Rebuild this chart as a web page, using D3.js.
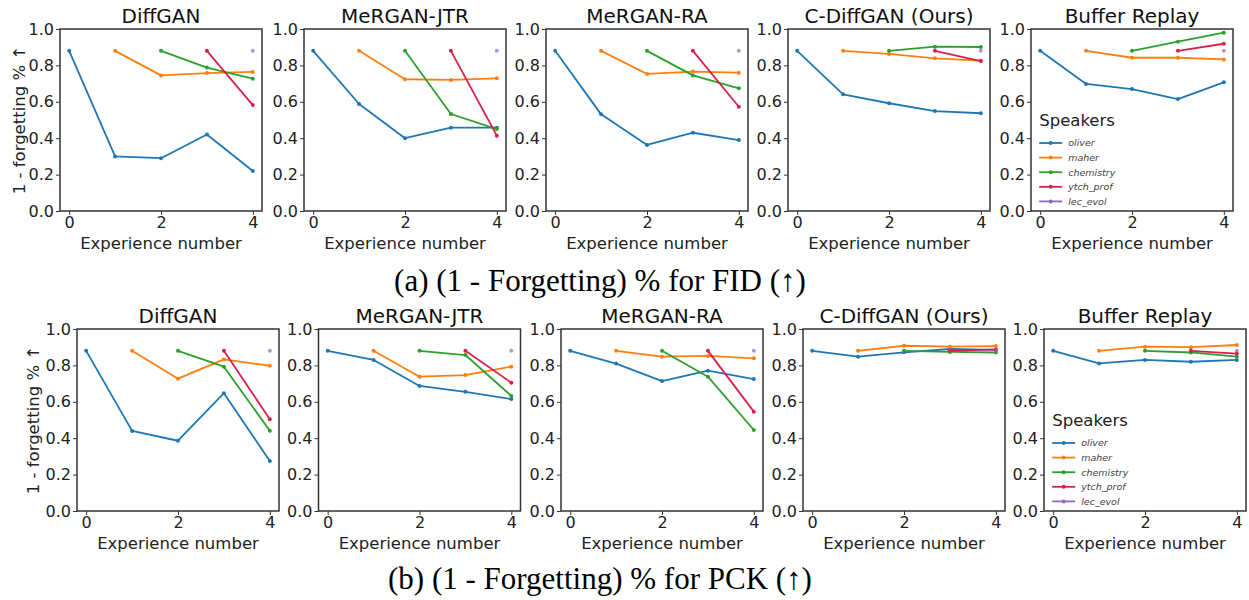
<!DOCTYPE html>
<html><head><meta charset="utf-8">
<script src="https://cdn.jsdelivr.net/npm/d3@7"></script>
<style>body{margin:0;background:#fff}svg{display:block}</style>
</head><body>
<svg id="c" width="1249" height="600"></svg>
<script>
// ---- data ----
const speakers = ["oliver", "maher", "chemistry", "ytch_prof", "lec_evol"];
const speakerColors = ["#1f77b4", "#ff7f0e", "#2ca02c", "#d8214a", "#9467bd"];
const methods = ["DiffGAN", "MeRGAN-JTR", "MeRGAN-RA", "C-DiffGAN (Ours)", "Buffer Replay"];
const experiences = [0, 1, 2, 3, 4];
const xTickValues = [0, 2, 4];
const yTickValues = [0, 0.2, 0.4, 0.6, 0.8, 1.0];
const captions = ["(a) (1 - Forgetting) % for FID (\u2191)", "(b) (1 - Forgetting) % for PCK (\u2191)"];
const yLabel = "1 - forgetting % \u2191";
const xLabel = "Experience number";
const legendTitle = "Speakers";

// rows: speakers; columns: experience 0..4 (null = not yet introduced)
const fidDiffGAN = [
  [0.88, 0.30, 0.29, 0.42, 0.22],
  [null, 0.88, 0.745, 0.758, 0.764],
  [null, null, 0.88, 0.788, 0.727],
  [null, null, null, 0.88, 0.582],
  [null, null, null, null, 0.88]
];
const fidMeRGANJTR = [
  [0.88, 0.588, 0.40, 0.458, 0.458],
  [null, 0.88, 0.724, 0.72, 0.729],
  [null, null, 0.88, 0.533, 0.45],
  [null, null, null, 0.88, 0.414],
  [null, null, null, null, 0.88]
];
const fidMeRGANRA = [
  [0.88, 0.531, 0.363, 0.43, 0.39],
  [null, 0.88, 0.753, 0.766, 0.76],
  [null, null, 0.88, 0.745, 0.674],
  [null, null, null, 0.88, 0.573],
  [null, null, null, null, 0.88]
];
const fidCDiffGAN = [
  [0.88, 0.641, 0.592, 0.549, 0.537],
  [null, 0.88, 0.863, 0.839, 0.826],
  [null, null, 0.88, 0.903, 0.901],
  [null, null, null, 0.88, 0.824],
  [null, null, null, null, 0.88]
];
const fidBufferReplay = [
  [0.88, 0.698, 0.67, 0.615, 0.707],
  [null, 0.88, 0.842, 0.842, 0.833],
  [null, null, 0.88, 0.93, 0.98],
  [null, null, null, 0.88, 0.919],
  [null, null, null, null, 0.88]
];
const pckDiffGAN = [
  [0.88, 0.44, 0.386, 0.647, 0.275],
  [null, 0.88, 0.727, 0.833, 0.798],
  [null, null, 0.88, 0.793, 0.441],
  [null, null, null, 0.88, 0.504],
  [null, null, null, null, 0.88]
];
const pckMeRGANJTR = [
  [0.88, 0.83, 0.687, 0.655, 0.615],
  [null, 0.88, 0.738, 0.747, 0.793],
  [null, null, 0.88, 0.857, 0.632],
  [null, null, null, 0.88, 0.705],
  [null, null, null, null, 0.88]
];
const pckMeRGANRA = [
  [0.88, 0.81, 0.714, 0.771, 0.725],
  [null, 0.88, 0.848, 0.852, 0.839],
  [null, null, 0.88, 0.738, 0.445],
  [null, null, null, 0.88, 0.546],
  [null, null, null, null, 0.88]
];
const pckCDiffGAN = [
  [0.88, 0.848, 0.872, 0.89, 0.885],
  [null, 0.88, 0.908, 0.903, 0.906],
  [null, null, 0.88, 0.874, 0.871],
  [null, null, null, 0.88, 0.888],
  [null, null, null, null, 0.88]
];
const pckBufferReplay = [
  [0.88, 0.811, 0.83, 0.82, 0.83],
  [null, 0.88, 0.903, 0.90, 0.912],
  [null, null, 0.88, 0.871, 0.848],
  [null, null, null, 0.88, 0.865],
  [null, null, null, null, 0.88]
];
const fidData = [fidDiffGAN, fidMeRGANJTR, fidMeRGANRA, fidCDiffGAN, fidBufferReplay];
const pckData = [pckDiffGAN, pckMeRGANJTR, pckMeRGANRA, pckCDiffGAN, pckBufferReplay];

// ---- layout ----
const rows = [
  {data: fidData, lefts: [60, 304, 546, 788, 1031], top: 29, ylabX: 19, caption: captions[0], capY: 291},
  {data: pckData, lefts: [77, 318.5, 561, 803, 1044], top: 329, ylabX: 33, caption: captions[1], capY: 589}
];
const W = 202, H = 182;
const font = "DejaVu Sans, sans-serif";
const svg = d3.select("#c");

rows.forEach((row, ri) => {
  row.data.forEach((mdata, mi) => {
    const left = row.lefts[mi];
    const g = svg.append("g").attr("transform", `translate(${left},${row.top})`);
    const x = d3.scaleLinear().domain([-0.2, 4.2]).range([0, W]);
    const y = d3.scaleLinear().domain([0, 1]).range([H, 0]);

    // axes
    const xa = g.append("g").attr("transform", `translate(0,${H})`)
      .call(d3.axisBottom(x).tickValues(xTickValues).tickFormat(d3.format("d")).tickSize(4).tickPadding(2));
    const ya = g.append("g")
      .call(d3.axisLeft(y).tickValues(yTickValues).tickFormat(d3.format(".1f")).tickSize(4).tickPadding(2));
    [xa, ya].forEach(a => {
      a.select(".domain").remove();
      a.selectAll("line").attr("stroke", "#333").attr("stroke-width", 1);
      a.selectAll("text").attr("font-family", font).attr("font-size", 16).attr("fill", "#222");
    });

    // lines
    const line = d3.line().defined(d => d.v != null).x(d => x(d.e)).y(d => y(d.v));
    mdata.forEach((vals, si) => {
      const pts = experiences.map((e, i) => ({e, v: vals[i]}));
      const col = speakerColors[si];
      g.append("path").datum(pts).attr("d", line).attr("fill", "none")
        .attr("stroke", col).attr("stroke-width", 1.8).attr("stroke-linejoin", "round");
      g.selectAll(null).data(pts.filter(d => d.v != null)).enter().append("circle")
        .attr("cx", d => x(d.e)).attr("cy", d => y(d.v)).attr("r", 2)
        .attr("fill", col).attr("opacity", si === 4 ? 0.7 : 1);
    });

    // frame
    g.append("rect").attr("width", W).attr("height", H).attr("fill", "none")
      .attr("stroke", "#333").attr("stroke-width", 1.5);

    // title
    g.append("text").attr("x", W / 2).attr("y", -6).attr("text-anchor", "middle")
      .attr("font-family", font).attr("font-size", 20).attr("fill", "#111").text(methods[mi]);
    // x label
    g.append("text").attr("x", W / 2).attr("y", H + 38).attr("text-anchor", "middle")
      .attr("font-family", font).attr("font-size", 16.5).attr("fill", "#222").text(xLabel);

    // legend on last panel
    if (mi === 4) {
      const lg = g.append("g").attr("transform", `translate(${x(0) - 1},${y(0.5) + 6})`);
      lg.append("text").attr("x", 0).attr("y", 0).attr("font-family", font)
        .attr("font-size", 16.5).attr("fill", "#222").text(legendTitle);
      speakers.forEach((s, si) => {
        const yy = 17 + si * 14.6;
        lg.append("line").attr("x1", 0).attr("x2", 23).attr("y1", yy).attr("y2", yy)
          .attr("stroke", speakerColors[si]).attr("stroke-width", 1.8);
        lg.append("circle").attr("cx", 11.5).attr("cy", yy).attr("r", 2).attr("fill", speakerColors[si]);
        lg.append("text").attr("x", 29).attr("y", yy + 3.3).attr("font-family", font)
          .attr("font-size", 9.5).attr("font-style", "italic").attr("fill", "#444").text(s);
      });
    }
  });
  // y label
  svg.append("text").attr("transform", `translate(${row.ylabX},${row.top + H / 2}) rotate(-90)`)
    .attr("text-anchor", "middle").attr("dominant-baseline", "central")
    .attr("font-family", font).attr("font-size", 16.5).attr("fill", "#222").text(yLabel);
  // caption
  svg.append("text").attr("x", 600).attr("y", row.capY).attr("text-anchor", "middle")
    .attr("font-family", "Liberation Serif, Times New Roman, serif").attr("font-size", 31)
    .attr("fill", "#000").text(row.caption);
});
</script>
</body></html>
